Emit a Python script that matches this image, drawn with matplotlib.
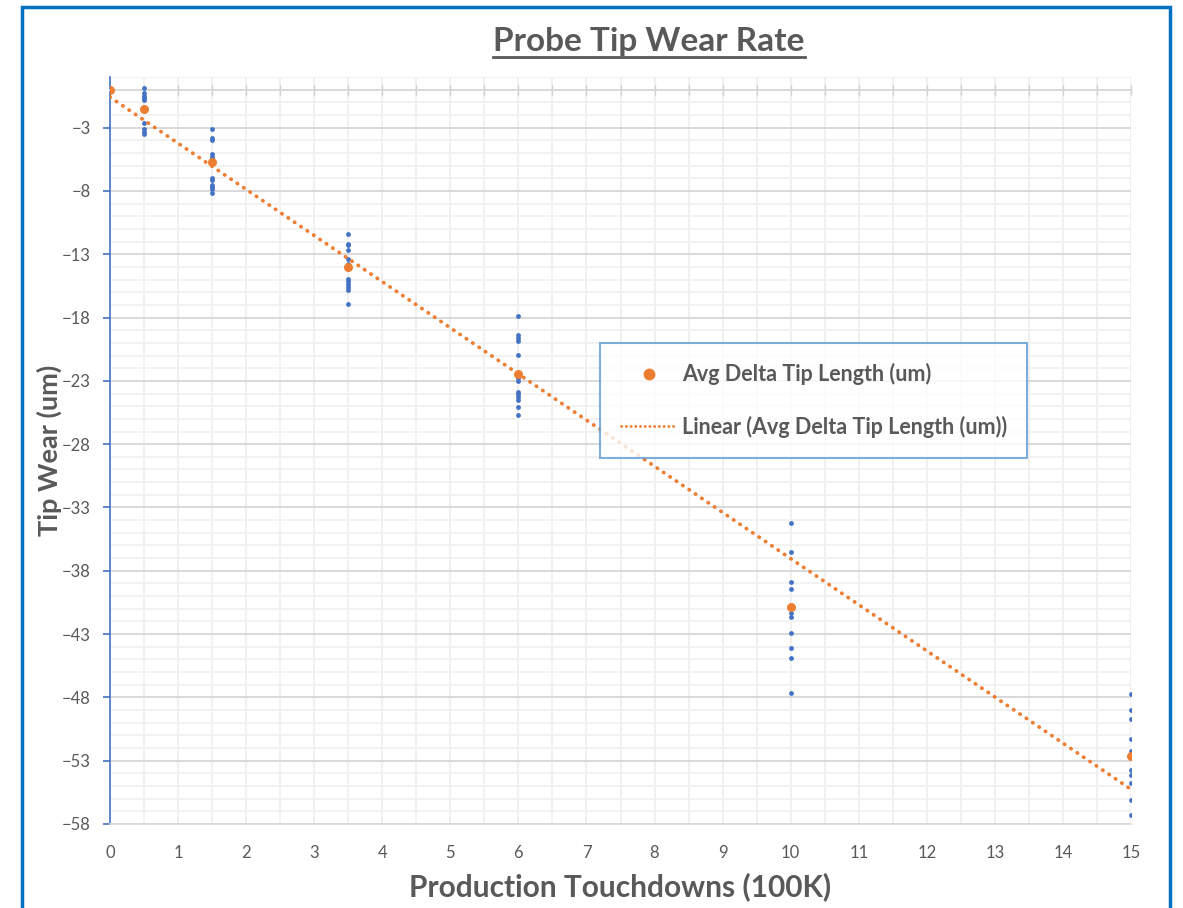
import matplotlib
matplotlib.use("Agg")
import matplotlib.pyplot as plt
from matplotlib.lines import Line2D
from matplotlib.patches import Rectangle
from matplotlib.ticker import MultipleLocator
import numpy as np

# touchdowns (100K) for each group of measured probes
touchdowns = [0.5, 1.5, 3.5, 6, 10, 15]
# individual delta tip lengths (um) read per group
tips_05 = [0.1, -0.3, -0.5, -0.65, -0.85, -2.6, -3.1, -3.35, -3.5]
tips_15 = [-3.1, -3.8, -3.95, -5.1, -5.3, -5.5, -5.9, -7.0, -7.1, -7.5, -7.7, -7.85, -8.15]
tips_35 = [-11.4, -12.2, -12.3, -12.7, -13.4, -13.8, -14.2, -14.95, -15.15, -15.35, -15.55, -15.8, -16.9]
tips_6 = [-17.85, -19.4, -19.6, -19.85, -20.95, -22.8, -23.05, -23.85, -24.05, -24.25, -24.5, -25.05, -25.7]
tips_10 = [-34.2, -36.5, -38.9, -39.4, -41.35, -41.65, -42.95, -44.1, -44.9, -47.65]
tips_15k = [-47.75, -49.0, -49.7, -51.3, -52.2, -53.7, -54.15, -54.8, -56.1, -57.25]

# averages
avg_x = [0, 0.5, 1.5, 3.5, 6, 10, 15]
avg_y = [0.0, -1.5, -5.7, -14.0, -22.45, -40.9, -52.6]

BLUE = "#4472C4"
ORANGE = "#ED7D31"
GRAY = "#595959"
FONT = "Lato"

plt.rcParams["font.family"] = [FONT, "DejaVu Sans"]

fig = plt.figure(figsize=(11.83, 9.08), dpi=100)
ax = fig.add_axes([110/1183, 1 - 824/908, (1131-110)/1183, (824-77)/908])

# blue frame around the chart
fig.patches.append(Rectangle((22/1183, -0.05), (1170-22)/1183, 1.05 - 6.7/908,
                             transform=fig.transFigure, fill=False,
                             edgecolor="#0070C0", linewidth=2.5, clip_on=False))

groups = [tips_05, tips_15, tips_35, tips_6, tips_10, tips_15k]
for x, vals in zip(touchdowns, groups):
    ax.scatter([x]*len(vals), vals, s=12, color=BLUE, zorder=3, linewidths=0)

# linear trendline of the averages
slope, icept = np.polyfit(avg_x, avg_y, 1)
tx = np.array([min(avg_x), max(avg_x)])
ax.plot(tx, slope*tx + icept, color=ORANGE, lw=2.7,
        linestyle=(0, (0.1, 1.95)), dash_capstyle="round", zorder=4)
ax.scatter(avg_x, avg_y, s=42, color=ORANGE, zorder=5, linewidths=0)

ax.set_xlim(0, 15)
ax.set_ylim(-58, 1)
ax.xaxis.set_major_locator(MultipleLocator(1))
ax.xaxis.set_minor_locator(MultipleLocator(0.5))
ax.yaxis.set_major_locator(MultipleLocator(5, offset=2))
ax.yaxis.set_minor_locator(MultipleLocator(1))

ax.grid(which="major", axis="y", color="#d9d9d9", lw=1.4)
ax.grid(which="minor", axis="y", color="#f0f0f0", lw=1.2)
ax.grid(which="both", axis="x", color="#ededed", lw=1.2)
ax.set_axisbelow(True)

ax.spines["right"].set_visible(False)
ax.spines["left"].set_color(BLUE)
ax.spines["left"].set_linewidth(1.2)
ax.spines["bottom"].set_color("#d9d9d9")
ax.spines["bottom"].set_linewidth(1.2)
# horizontal axis line crosses at zero
ax.spines["top"].set_position(("data", 0))
ax.spines["top"].set_color("#d9d9d9")
ax.spines["top"].set_linewidth(1.4)

ax.tick_params(axis="x", which="both", bottom=False, top=True, labeltop=False,
               direction="inout", length=6.5, color="#d0d0d0", width=1)
ax.tick_params(axis="x", which="major", labelsize=12, labelcolor=GRAY, pad=12)
ax.tick_params(axis="y", which="major", direction="out", length=5, color=BLUE,
               width=1.2, labelsize=12, labelcolor=GRAY, pad=9)
ax.tick_params(axis="y", which="minor", left=False)

ax.set_xlabel("Production Touchdowns (100K)", fontsize=21.5, fontweight="bold",
              color=GRAY, labelpad=8)
ax.set_ylabel("Tip Wear (um)", fontsize=19.5, fontweight="bold", color=GRAY,
              labelpad=0)

title = fig.text(649/1183, 1 - 41/908, "Probe Tip Wear Rate", ha="center",
                 va="center", fontsize=24, fontweight="bold", color=GRAY)

handles = [Line2D([], [], marker="o", color=ORANGE, lw=0, markersize=7.5),
           Line2D([], [], color=ORANGE, lw=2, linestyle=(0, (0.1, 1.6)),
                  dash_capstyle="round")]
labels = ["Avg Delta Tip Length (um)", "Linear (Avg Delta Tip Length (um))"]
leg = ax.legend(handles, labels, loc="upper left", bbox_to_anchor=(0.48, 0.644),
                frameon=True, fancybox=False, edgecolor="#5B9BD5",
                prop={"family": FONT, "weight": "bold", "size": 15.5},
                labelcolor=GRAY, handlelength=2.6, handletextpad=0.25,
                labelspacing=1.4, borderpad=0.95, borderaxespad=0)
leg.get_frame().set_linewidth(1.5)
leg.set_zorder(10)

# underline the title
fig.canvas.draw()
bb = title.get_window_extent().transformed(fig.transFigure.inverted())
fig.add_artist(Line2D([bb.x0, bb.x1], [bb.y0 - 0.002, bb.y0 - 0.002],
                      transform=fig.transFigure, color=GRAY, lw=2))

fig.savefig("out.png", dpi=100)
